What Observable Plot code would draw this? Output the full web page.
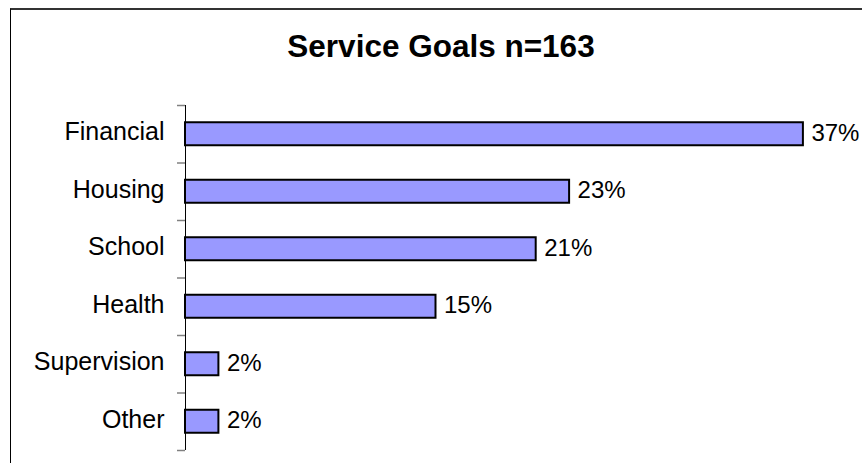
<!DOCTYPE html>
<html><head><meta charset="utf-8">
<script src="https://cdn.jsdelivr.net/npm/d3@7"></script>
<script src="https://cdn.jsdelivr.net/npm/@observablehq/plot@0.6"></script>
<style>
body{margin:0;background:#fff;}
#wrap{position:relative;width:862px;height:463px;overflow:hidden;font-family:"Liberation Sans",Arial,sans-serif;background:#fff;}
#frame{position:absolute;left:10px;top:8px;width:900px;height:500px;border-left:1px solid #000;border-top:2px solid #333;}
#title{position:absolute;left:0;width:882px;top:31px;text-align:center;font-weight:bold;font-size:31.5px;line-height:31px;margin:0;color:#000;}
#chart{position:absolute;left:0;top:0;}
</style></head><body>
<div id="wrap"><div id="frame"></div><div id="title">Service Goals n=163</div><div id="chart"></div></div>
<script>
const categories = ["Financial","Housing","School","Health","Supervision","Other"];
const values = [37,23,21,15,2,2];
const valueLabels = ["37%","23%","21%","15%","2%","2%"];

const data = categories.map((c,i)=>({cat:c, i, v: values[i], label: valueLabels[i]}));
const idx = d3.range(categories.length);
const boundaries = d3.range(categories.length + 1).map(k => k - 0.5);
const font = '"Liberation Sans", Arial, sans-serif';

const chart = Plot.plot({
  width: 862, height: 463,
  marginLeft: 185, marginRight: 9, marginTop: 105, marginBottom: 13,
  x: {domain: [0, 40], axis: null, label: null},
  y: {domain: [-0.5, categories.length - 0.5], reverse: true, label: null},
  style: {fontFamily: font, fontSize: "24px", background: "transparent", color: "#000"},
  marks: [
    Plot.axisY({ticks: boundaries, tickFormat: () => "", tickSize: 8, stroke: "#808080", strokeWidth: 1.5, label: null}),
    Plot.axisY({ticks: idx, tickFormat: i => categories[i], tickSize: 0, tickPadding: 21, fontSize: 25, fill: "#000", dy: -2, label: null}),
    Plot.rect(data, {x1: 0, x2: "v", y1: d => d.i - 0.2, y2: d => d.i + 0.2, fill: "#9999FF", stroke: "#000", strokeWidth: 2}),
    Plot.ruleX([0], {y1: -0.5, y2: categories.length - 0.5, stroke: "#000", strokeWidth: 1}),
    Plot.text(data, {x: "v", y: "i", text: "label", dx: 8, textAnchor: "start", fontSize: 24, fill: "#000", dy: -1})
  ]
});
document.getElementById("chart").appendChild(chart);
</script>
</body></html>
